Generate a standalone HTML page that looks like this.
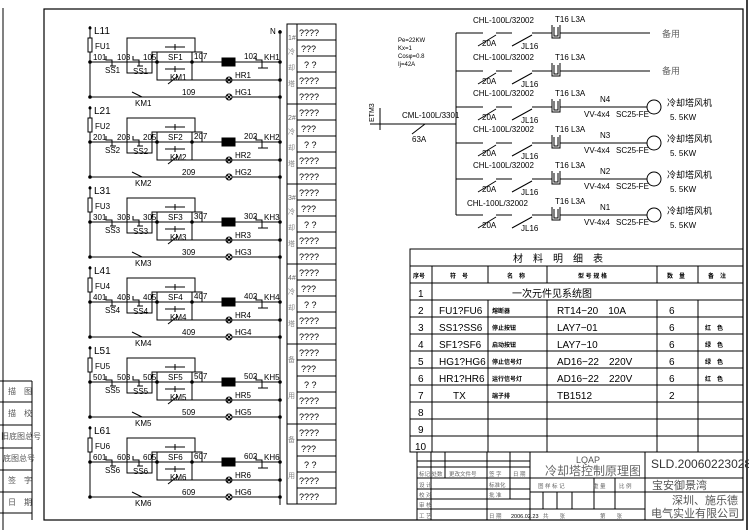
<!DOCTYPE html>
<html><head><meta charset="utf-8"><style>
body{margin:0;background:#fff}
svg{display:block}
text{font-family:"Liberation Sans","Noto Sans CJK SC",sans-serif;fill:#000}
.s{font-size:8px}
.m{font-size:11px}
</style></head><body>
<svg width="749" height="530" viewBox="0 0 749 530" xmlns="http://www.w3.org/2000/svg">
<defs>
<g id="row" fill="none" stroke="#000" stroke-width="1">
  <line x1="90" y1="26" x2="90" y2="38"/>
  <rect x="88" y="38" width="4" height="14"/>
  <line x1="90" y1="52" x2="90" y2="97"/>
  <line x1="90" y1="62" x2="280" y2="62"/>
  <path d="M127,62 V38 H195 V52"/>
  <path d="M127,62 V73 H152 V52 H202 V62"/>
  <rect x="157" y="52" width="35" height="28"/>
  <path d="M165,47 H185 M175,44 V50 M165,69 H185 M175,66 V72"/>
  <path d="M106,56 V60 H112 V66 M110,66 H116"/>
  <path d="M133,56 V60 H139 V66 M137,66 H143"/>
  <rect x="222" y="58" width="13" height="8" fill="#000"/>
  <path d="M256,56 V60 H262 V68 M258,68 H268"/>
  <line x1="175" y1="80" x2="280" y2="80"/>
  <path d="M168,84 L178,76"/>
  <circle cx="229" cy="80" r="3"/>
  <path d="M227,78 L231,82 M231,78 L227,82"/>
  <line x1="90" y1="97" x2="280" y2="97"/>
  <path d="M132,92 L142,97" />
  <circle cx="229" cy="97" r="3" fill="#fff"/>
  <path d="M227,95 L231,99 M231,95 L227,99"/>
  <g fill="#000" stroke="none">
    <circle cx="90" cy="62" r="1.8"/><circle cx="157" cy="62" r="1.8"/><circle cx="192" cy="62" r="1.8"/>
    <circle cx="280" cy="62" r="1.8"/><circle cx="280" cy="80" r="1.8"/><circle cx="280" cy="97" r="1.8"/>
    <circle cx="90" cy="97" r="1.8"/><circle cx="90" cy="28" r="1.5"/>
  </g>
</g>
<g id="tb" fill="none" stroke="#000">
  <rect x="287" y="24" width="49" height="80"/>
  <line x1="297" y1="24" x2="297" y2="104"/>
  <path d="M297,40 H336 M297,56 H336 M297,72 H336 M297,88 H336"/>
</g>
<g id="br" fill="none" stroke="#000">
  <line x1="456" y1="0" x2="483" y2="0"/>
  <line x1="478" y1="13" x2="496" y2="2"/>
  <line x1="496" y1="0" x2="512" y2="0"/>
  <line x1="512" y1="13" x2="532" y2="2"/>
  <line x1="532" y1="0" x2="552" y2="0"/>
  <path d="M552,-8 V5 H560 V-8 M554,-6 V3 H558 V-6"/>
</g>
</defs>

<!-- frame -->
<line x1="3" y1="8" x2="3" y2="530" stroke="#000"/>
<rect x="44" y="9" width="699" height="511" fill="none" stroke="#000" stroke-width="1.2"/>
<line x1="747" y1="0" x2="747" y2="530" stroke="#000" stroke-width="1.5"/>
<g stroke="#000" fill="none">
<path d="M0,381 H32 M0,402 H32 M0,425 H32 M0,448 H32 M0,470 H32 M0,492 H32 M0,513 H32 M32,381 V520"/>
</g>
<g class="s">
<text x="8" y="394" style="fill:#555">描　图</text>
<text x="8" y="416" style="fill:#555">描　校</text>
<text x="1" y="439" style="fill:#555">旧底图总号</text>
<text x="3" y="461" style="fill:#555">底图总号</text>
<text x="8" y="483" style="fill:#555">签　字</text>
<text x="8" y="505" style="fill:#555">日　期</text>
</g>

<!-- left circuits -->
<line x1="280" y1="30" x2="280" y2="505" stroke="#000"/>
<circle cx="280" cy="32" r="1.8"/>
<text x="270" y="34" class="s">N</text>
<use href="#row"/>
<use href="#row" y="80"/>
<use href="#row" y="160"/>
<use href="#row" y="240"/>
<use href="#row" y="320"/>
<use href="#row" y="400"/>
<g class="s">
<text x="94" y="34" font-size="10">L11</text><text x="95" y="49">FU1</text><text x="93" y="60">101</text><text x="105" y="73">SS1</text><text x="117" y="60">103</text><text x="133" y="74">SS1</text><text x="143" y="60">105</text><text x="168" y="60">SF1</text><text x="194" y="59">107</text><text x="244" y="59">102</text><text x="264" y="60">KH1</text><text x="235" y="78">HR1</text><text x="170" y="80">KM1</text><text x="182" y="95">109</text><text x="235" y="95">HG1</text><text x="135" y="106">KM1</text>
<text x="94" y="114" font-size="10">L21</text><text x="95" y="129">FU2</text><text x="93" y="140">201</text><text x="105" y="153">SS2</text><text x="117" y="140">203</text><text x="133" y="154">SS2</text><text x="143" y="140">205</text><text x="168" y="140">SF2</text><text x="194" y="139">207</text><text x="244" y="139">202</text><text x="264" y="140">KH2</text><text x="235" y="158">HR2</text><text x="170" y="160">KM2</text><text x="182" y="175">209</text><text x="235" y="175">HG2</text><text x="135" y="186">KM2</text>
<text x="94" y="194" font-size="10">L31</text><text x="95" y="209">FU3</text><text x="93" y="220">301</text><text x="105" y="233">SS3</text><text x="117" y="220">303</text><text x="133" y="234">SS3</text><text x="143" y="220">305</text><text x="168" y="220">SF3</text><text x="194" y="219">307</text><text x="244" y="219">302</text><text x="264" y="220">KH3</text><text x="235" y="238">HR3</text><text x="170" y="240">KM3</text><text x="182" y="255">309</text><text x="235" y="255">HG3</text><text x="135" y="266">KM3</text>
<text x="94" y="274" font-size="10">L41</text><text x="95" y="289">FU4</text><text x="93" y="300">401</text><text x="105" y="313">SS4</text><text x="117" y="300">403</text><text x="133" y="314">SS4</text><text x="143" y="300">405</text><text x="168" y="300">SF4</text><text x="194" y="299">407</text><text x="244" y="299">402</text><text x="264" y="300">KH4</text><text x="235" y="318">HR4</text><text x="170" y="320">KM4</text><text x="182" y="335">409</text><text x="235" y="335">HG4</text><text x="135" y="346">KM4</text>
<text x="94" y="354" font-size="10">L51</text><text x="95" y="369">FU5</text><text x="93" y="380">501</text><text x="105" y="393">SS5</text><text x="117" y="380">503</text><text x="133" y="394">SS5</text><text x="143" y="380">505</text><text x="168" y="380">SF5</text><text x="194" y="379">507</text><text x="244" y="379">502</text><text x="264" y="380">KH5</text><text x="235" y="398">HR5</text><text x="170" y="400">KM5</text><text x="182" y="415">509</text><text x="235" y="415">HG5</text><text x="135" y="426">KM5</text>
<text x="94" y="434" font-size="10">L61</text><text x="95" y="449">FU6</text><text x="93" y="460">601</text><text x="105" y="473">SS6</text><text x="117" y="460">603</text><text x="133" y="474">SS6</text><text x="143" y="460">605</text><text x="168" y="460">SF6</text><text x="194" y="459">607</text><text x="244" y="459">602</text><text x="264" y="460">KH6</text><text x="235" y="478">HR6</text><text x="170" y="480">KM6</text><text x="182" y="495">609</text><text x="235" y="495">HG6</text><text x="135" y="506">KM6</text>
</g>

<!-- terminal block -->
<use href="#tb"/><use href="#tb" y="80"/><use href="#tb" y="160"/><use href="#tb" y="240"/><use href="#tb" y="320"/><use href="#tb" y="400"/>
<g font-size="9">
<text x="299" y="36">????</text><text x="301" y="52">???</text><text x="304" y="68">? ?</text><text x="299" y="84">????</text><text x="299" y="100">????</text>
<text x="299" y="116">????</text><text x="301" y="132">???</text><text x="304" y="148">? ?</text><text x="299" y="164">????</text><text x="299" y="180">????</text>
<text x="299" y="196">????</text><text x="301" y="212">???</text><text x="304" y="228">? ?</text><text x="299" y="244">????</text><text x="299" y="260">????</text>
<text x="299" y="276">????</text><text x="301" y="292">???</text><text x="304" y="308">? ?</text><text x="299" y="324">????</text><text x="299" y="340">????</text>
<text x="299" y="356">????</text><text x="301" y="372">???</text><text x="304" y="388">? ?</text><text x="299" y="404">????</text><text x="299" y="420">????</text>
<text x="299" y="436">????</text><text x="301" y="452">???</text><text x="304" y="468">? ?</text><text x="299" y="484">????</text><text x="299" y="500">????</text>
</g>
<g font-size="7">
<text x="288" y="40" style="fill:#666">1#</text><text x="288" y="54" style="fill:#888">冷</text><text x="288" y="70" style="fill:#888">却</text><text x="288" y="86" style="fill:#888">塔</text>
<text x="288" y="120" style="fill:#666">2#</text><text x="288" y="134" style="fill:#888">冷</text><text x="288" y="150" style="fill:#888">却</text><text x="288" y="166" style="fill:#888">塔</text>
<text x="288" y="200" style="fill:#666">3#</text><text x="288" y="214" style="fill:#888">冷</text><text x="288" y="230" style="fill:#888">却</text><text x="288" y="246" style="fill:#888">塔</text>
<text x="288" y="280" style="fill:#666">4#</text><text x="288" y="294" style="fill:#888">冷</text><text x="288" y="310" style="fill:#888">却</text><text x="288" y="326" style="fill:#888">塔</text>
<text x="288" y="362" style="fill:#888">备</text><text x="288" y="398" style="fill:#888">用</text>
<text x="288" y="442" style="fill:#888">备</text><text x="288" y="478" style="fill:#888">用</text>
</g>

<!-- top right single line -->
<g stroke="#000" fill="none">
<line x1="370" y1="124" x2="456" y2="124"/>
<line x1="380" y1="108" x2="380" y2="130"/>
<line x1="412" y1="134" x2="425" y2="124"/>
<line x1="456" y1="33" x2="456" y2="215"/>
<path d="M560,33 H650 M560,71 H650 M560,107 H647 M560,143 H647 M560,179 H647 M560,215 H647"/>
<circle cx="654" cy="107" r="7"/><circle cx="654" cy="143" r="7"/><circle cx="654" cy="179" r="7"/><circle cx="654" cy="215" r="7"/>
</g>
<use href="#br" y="33"/><use href="#br" y="71"/><use href="#br" y="107"/><use href="#br" y="143"/><use href="#br" y="179"/><use href="#br" y="215"/>
<g class="s">
<text x="398" y="42" font-size="6">Pe=22KW</text><text x="398" y="50" font-size="6">Kx=1</text><text x="398" y="58" font-size="6">Cosφ=0.8</text><text x="398" y="66" font-size="6">Ij=42A</text>
<text x="402" y="118">CML-100L/3301</text><text x="412" y="142">63A</text>
<text x="368" y="128" transform="rotate(-90 368 122)" font-size="7">ETM3</text>
<text x="473" y="23">CHL-100L/32002</text><text x="482" y="46">20A</text><text x="521" y="49">JL16</text><text x="555" y="22">T16 L3A</text>
<text x="473" y="60">CHL-100L/32002</text><text x="482" y="84">20A</text><text x="521" y="87">JL16</text><text x="555" y="60">T16 L3A</text>
<text x="473" y="96">CHL-100L/32002</text><text x="482" y="120">20A</text><text x="521" y="123">JL16</text><text x="555" y="96">T16 L3A</text>
<text x="473" y="132">CHL-100L/32002</text><text x="482" y="156">20A</text><text x="521" y="159">JL16</text><text x="555" y="132">T16 L3A</text>
<text x="473" y="168">CHL-100L/32002</text><text x="482" y="192">20A</text><text x="521" y="195">JL16</text><text x="555" y="168">T16 L3A</text>
<text x="467" y="206">CHL-100L/32002</text><text x="482" y="228">20A</text><text x="521" y="231">JL16</text><text x="555" y="204">T16 L3A</text>
<text x="600" y="102">N4</text><text x="584" y="117">VV-4x4</text><text x="616" y="117">SC25-FE</text>
<text x="600" y="138">N3</text><text x="584" y="153">VV-4x4</text><text x="616" y="153">SC25-FE</text>
<text x="600" y="174">N2</text><text x="584" y="189">VV-4x4</text><text x="616" y="189">SC25-FE</text>
<text x="600" y="210">N1</text><text x="584" y="225">VV-4x4</text><text x="616" y="225">SC25-FE</text>
</g>
<g font-size="9">
<text x="662" y="37" style="fill:#666">备用</text><text x="662" y="74" style="fill:#666">备用</text>
<text x="667" y="106">冷却塔风机</text><text x="670" y="120" class="s">5. 5KW</text>
<text x="667" y="142">冷却塔风机</text><text x="670" y="156" class="s">5. 5KW</text>
<text x="667" y="178">冷却塔风机</text><text x="670" y="192" class="s">5. 5KW</text>
<text x="667" y="214">冷却塔风机</text><text x="670" y="228" class="s">5. 5KW</text>
</g>

<!-- material table -->
<g stroke="#000" fill="none">
<rect x="410" y="249" width="333" height="203"/>
<path d="M410,266 H743 M410,283 H743 M410,300 H743 M410,317 H743 M410,334 H743 M410,351 H743 M410,368 H743 M410,385 H743 M410,402 H743 M410,419 H743 M410,436 H743"/>
<path d="M432,266 V452 M488,266 V283 M488,300 V452 M547,266 V283 M547,300 V452 M657,266 V283 M657,300 V452 M698,266 V283 M698,300 V452"/>
</g>
<text x="513" y="262" font-size="10">材　料　明　细　表</text>
<g font-size="6" font-weight="bold">
<text x="413" y="278">序号</text><text x="450" y="278">符　号</text><text x="507" y="278">名　称</text><text x="578" y="278">型 号 规 格</text><text x="667" y="278">数　量</text><text x="708" y="278">备　注</text>
<text x="492" y="313">熔断器</text><text x="492" y="330">停止按钮</text><text x="492" y="347">启动按钮</text><text x="492" y="364">停止信号灯</text><text x="492" y="381">运行信号灯</text><text x="492" y="398">端子排</text>
<text x="705" y="330">红　色</text><text x="705" y="347">绿　色</text><text x="705" y="364">绿　色</text><text x="705" y="381">红　色</text>
</g>
<g font-size="10">
<text x="418" y="297">1</text><text x="418" y="314">2</text><text x="418" y="331">3</text><text x="418" y="348">4</text><text x="418" y="365">5</text><text x="418" y="382">6</text><text x="418" y="399">7</text><text x="418" y="416">8</text><text x="418" y="433">9</text><text x="415" y="450">10</text>
<text x="512" y="297">一次元件见系统图</text>
<text x="439" y="314">FU1?FU6</text><text x="439" y="331">SS1?SS6</text><text x="439" y="348">SF1?SF6</text><text x="439" y="365">HG1?HG6</text><text x="439" y="382">HR1?HR6</text><text x="453" y="399">TX</text>
<text x="557" y="314">RT14−20　10A</text><text x="557" y="331">LAY7−01</text><text x="557" y="348">LAY7−10</text><text x="557" y="365">AD16−22　220V</text><text x="557" y="382">AD16−22　220V</text><text x="557" y="399">TB1512</text>
<text x="669" y="314">6</text><text x="669" y="331">6</text><text x="669" y="348">6</text><text x="669" y="365">6</text><text x="669" y="382">6</text><text x="669" y="399">2</text>
</g>

<!-- title block -->
<g stroke="#000" fill="none">
<path d="M417,452 V520 M417,461 H530 M417,467 H530 M417,478 H743 M417,489 H530 M417,499 H530 M417,509 H645"/>
<path d="M431,452 V520 M445,452 V478 M487,452 V520 M510,452 V478 M510,478 V499 M530,452 V520 M645,452 V520"/>
<path d="M530,492 H743 M543,492 V509 M557,492 V509 M572,492 V509 M594,478 V509 M615,478 V509"/>
</g>
<text x="576" y="463" font-size="9" style="fill:#555">LQAP</text>
<text x="545" y="475" font-size="12" style="fill:#666">冷却塔控制原理图</text>
<text x="651" y="468" font-size="12" style="fill:#333">SLD.20060223028</text>
<text x="652" y="489" font-size="11" style="fill:#555">宝安御景湾</text>
<text x="672" y="504" font-size="11" style="fill:#555">深圳、施乐德</text>
<text x="651" y="517" font-size="11" style="fill:#555">电气实业有限公司</text>
<g font-size="5.5">
<text x="419" y="476" style="fill:#666">标记 处数</text><text x="449" y="476" style="fill:#666">更改文件号</text><text x="489" y="476" style="fill:#666">签 字</text><text x="513" y="476" style="fill:#666">日 期</text>
<text x="419" y="487" style="fill:#666">设 计</text><text x="489" y="487" style="fill:#666">标准化</text>
<text x="419" y="497" style="fill:#666">校 对</text><text x="489" y="497" style="fill:#666">批 准</text>
<text x="419" y="507" style="fill:#666">审 核</text>
<text x="419" y="518" style="fill:#666">工 艺</text><text x="489" y="518" style="fill:#666">日 期</text><text x="511" y="518" style="fill:#000">2006.02.23</text>
<text x="538" y="488" style="fill:#666">图 样 标 记</text><text x="593" y="488" style="fill:#666">重 量</text><text x="619" y="488" style="fill:#666">比 例</text>
<text x="543" y="518" style="fill:#666">共　　张</text><text x="600" y="518" style="fill:#666">第　　张</text>
</g>
</svg>
</body></html>
